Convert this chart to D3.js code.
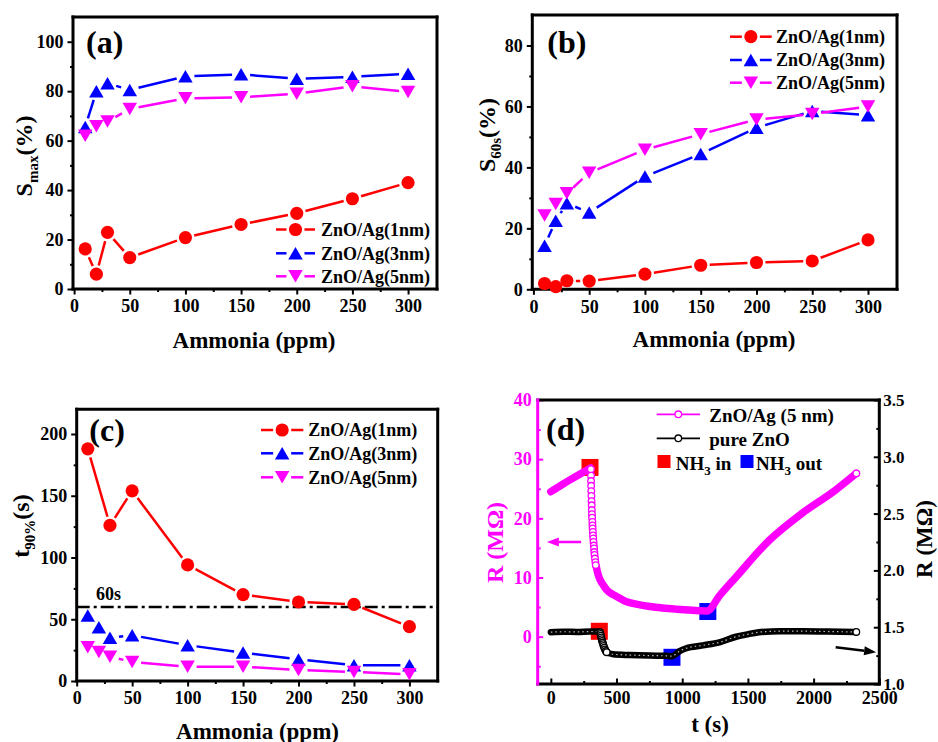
<!DOCTYPE html>
<html>
<head>
<meta charset="utf-8">
<script src="https://cdn.jsdelivr.net/npm/d3@7"></script>
<style>
  body { margin: 0; background: #fff; }
  svg text { font-family: "Liberation Serif", "Times New Roman", serif; font-weight: bold; }
</style>
</head>
<body>
<svg id="fig" width="938" height="742"></svg>
<script>
// ---- values ----
const ppm = [10, 20, 30, 50, 100, 150, 200, 250, 300];
const ppmT90_1nm = [10, 30, 50, 100, 150, 200, 250, 300]; // no 20 ppm point for 1 nm

const seriesNames = ['ZnO/Ag(1nm)', 'ZnO/Ag(3nm)', 'ZnO/Ag(5nm)'];

// (a) maximum response
const smax1nm = [16.2, 6.0, 22.9, 12.7, 20.8, 26.1, 30.6, 36.5, 43.0];
const smax3nm = [65.5, 80, 83.2, 80.5, 86, 86.8, 85, 85.8, 87];
const smax5nm = [62, 65.8, 67.7, 72.8, 77.1, 77.5, 79, 82, 79.7];

// (b) response after 60 s
const s60_1nm = [1.9, 0.9, 2.8, 2.7, 5.0, 7.9, 8.8, 9.3, 16.2];
const s60_3nm = [14.3, 22.5, 28.2, 25.2, 37, 44.4, 53, 58.5, 57.1];
const s60_5nm = [24.2, 28, 31.5, 38.2, 45.8, 50.9, 55.7, 57.5, 60];

// (c) response time
const t90_1nm = [188, 126, 154, 94, 70, 64, 62, 44];
const t90_3nm = [53, 43.5, 35, 37, 29, 23, 17.5, 12.7, 12.7];
const t90_5nm = [27.3, 23.5, 19.7, 15.4, 11.6, 11.6, 8.9, 7.3, 5.4];
const t90Limit = 60;

// (d) transient resistance, [t (s), R (MOhm)]
const agBeforeGas = [[0, 24.5], [100, 25.9], [200, 27.2], [303, 28.5]];
const agDrop = [[305, 28.3], [306, 27.2], [306, 26.3], [307, 25.5], [308, 24.6], [309, 23.8],
  [310, 22.9], [311, 22.2], [312, 21.4], [313, 20.7], [314, 20.1], [316, 19.4], [317, 18.8],
  [318, 18.3], [320, 17.7], [321, 17.1], [323, 16.6], [325, 16.0], [327, 15.4], [329, 14.9],
  [331, 14.3], [333, 13.8], [336, 13.2], [339, 12.6], [342, 12.1]];
const agAfter = [[345, 11.9], [360, 10.5], [375, 9.6], [400, 8.7], [425, 7.9], [475, 7.1],
  [500, 6.8], [576, 5.9], [650, 5.5], [753, 5.1], [850, 4.85], [955, 4.65], [1050, 4.5],
  [1132, 4.4], [1190, 4.35], [1283, 6.9], [1410, 10.1], [1663, 16.3], [1915, 20.9],
  [2168, 24.8], [2325, 27.6]];

const pureBeforeGas = [[0, 1.456], [100, 1.46], [200, 1.458], [300, 1.462], [372, 1.462]];
const pureDrop = [[375, 1.455], [378, 1.44], [381, 1.425], [384, 1.41], [387, 1.395],
  [390, 1.38], [394, 1.365], [398, 1.35], [402, 1.335], [407, 1.32], [412, 1.305],
  [418, 1.29], [425, 1.28]];
const pureAfter = [[430, 1.275], [475, 1.262], [600, 1.255], [750, 1.25], [880, 1.248],
  [922, 1.245], [980, 1.29], [1031, 1.315], [1157, 1.34], [1283, 1.367], [1410, 1.416],
  [1486, 1.435], [1600, 1.458], [1750, 1.465], [1915, 1.465], [2100, 1.462], [2325, 1.458]];

const gasInAg = [298, 28.6];     // left axis
const gasOutAg = [1195, 4.25];
const gasInPure = [369, 1.464];  // right axis
const gasOutPure = [922, 1.235];

// ---- styles ----
const RED = '#ff0000';
const BLUE = '#0000ff';
const MAG = '#ff00ff';
const SERIF = '"Liberation Serif", "Times New Roman", serif';
const SANS = '"Liberation Sans", Arial, sans-serif';

const svg = d3.select('#fig');

function markerPath(kind) {
  if (kind === 'circle') return d3.symbol(d3.symbolCircle, 136)();
  const s = 14.5, h = 12.5;
  if (kind === 'up') return `M0,${-h / 2}L${s / 2},${h / 2}L${-s / 2},${h / 2}Z`;
  return `M0,${h / 2}L${s / 2},${-h / 2}L${-s / 2},${-h / 2}Z`;
}

// line between symbols is cut short around each symbol (Origin "gap to symbol")
function gapLines(g, pts, color, gap) {
  const segs = [];
  d3.pairs(pts).forEach(([a, b]) => {
    const dx = b[0] - a[0], dy = b[1] - a[1];
    const len = Math.hypot(dx, dy);
    if (len <= 2 * gap) return;
    const ux = dx / len, uy = dy / len;
    segs.push([a[0] + ux * gap, a[1] + uy * gap, b[0] - ux * gap, b[1] - uy * gap]);
  });
  g.append('g').selectAll('line').data(segs).join('line')
    .attr('x1', (d) => d[0]).attr('y1', (d) => d[1])
    .attr('x2', (d) => d[2]).attr('y2', (d) => d[3])
    .attr('stroke', color).attr('stroke-width', 2.5);
}

function drawSeries(p, xs, ys, color, kind) {
  const pts = xs.map((v, i) => [p.x(v), p.y(ys[i])]);
  gapLines(p.g, pts, color, 9);
  p.g.append('g').selectAll('path').data(pts).join('path')
    .attr('transform', (d) => `translate(${d[0]},${d[1]})`)
    .attr('d', markerPath(kind))
    .attr('fill', color);
}

function legend(p, rows, lx0, lx1, tx) {
  rows.forEach((r) => {
    const mx = (lx0 + lx1) / 2;
    p.g.append('line').attr('x1', lx0).attr('x2', mx - 9).attr('y1', r.y).attr('y2', r.y)
      .attr('stroke', r.color).attr('stroke-width', 2.5);
    p.g.append('line').attr('x1', mx + 9).attr('x2', lx1).attr('y1', r.y).attr('y2', r.y)
      .attr('stroke', r.color).attr('stroke-width', 2.5);
    p.g.append('path').attr('transform', `translate(${mx},${r.y})`)
      .attr('d', markerPath(r.kind)).attr('fill', r.color);
    p.g.append('text').attr('x', tx).attr('y', r.y + 6.3)
      .attr('font-size', 18).text(r.name);
  });
}

function styleAxis(sel, size, family, color) {
  sel.attr('font-size', size).attr('font-family', family).attr('font-weight', 'bold')
    .attr('color', color || '#000');
  sel.select('.domain').remove();
  sel.selectAll('line').attr('stroke-width', 2);
}

function makePanel(c) {
  const p = {};
  p.g = svg.append('g');
  p.x = d3.scaleLinear().domain(c.xDomain).range([c.left, c.right]);
  p.y = d3.scaleLinear().domain(c.yDomain).range([c.bottom, c.top]);
  const dir = c.ticksIn ? -1 : 1;

  // minor ticks first, then major ticks with labels
  p.g.append('g').attr('transform', `translate(0,${c.bottom})`)
    .call(d3.axisBottom(p.x).tickValues(c.xMinor).tickSize(3 * dir).tickFormat(''))
    .call((s) => styleAxis(s, 18, SERIF));
  p.g.append('g').attr('transform', `translate(0,${c.bottom})`)
    .call(d3.axisBottom(p.x).tickValues(c.xMajor).tickSize(5.5 * dir)
      .tickPadding(c.ticksIn ? 7 : 5).tickFormat(d3.format('d')))
    .call((s) => styleAxis(s, 18, SERIF));

  p.g.append('g').attr('transform', `translate(${c.left},0)`)
    .call(d3.axisLeft(p.y).tickValues(c.yMinor).tickSize(3 * dir).tickFormat(''))
    .call((s) => styleAxis(s, 18, SERIF, c.leftColor));
  p.g.append('g').attr('transform', `translate(${c.left},0)`)
    .call(d3.axisLeft(p.y).tickValues(c.yMajor).tickSize(5.5 * dir)
      .tickPadding(c.ticksIn ? 6 : 4).tickFormat(d3.format('d')))
    .call((s) => styleAxis(s, 18, SERIF, c.leftColor));

  // frame
  const fr = p.g.append('g').attr('stroke-width', 3).attr('stroke-linecap', 'square');
  fr.append('line').attr('x1', c.left).attr('x2', c.right).attr('y1', c.top).attr('y2', c.top).attr('stroke', '#000');
  fr.append('line').attr('x1', c.right).attr('x2', c.right).attr('y1', c.top).attr('y2', c.bottom).attr('stroke', '#000');
  fr.append('line').attr('x1', c.left).attr('x2', c.right).attr('y1', c.bottom).attr('y2', c.bottom).attr('stroke', '#000');
  fr.append('line').attr('x1', c.left).attr('x2', c.left).attr('y1', c.top).attr('y2', c.bottom)
    .attr('stroke', c.leftColor || '#000');

  // panel letter
  p.g.append('text').attr('x', c.labelX).attr('y', c.labelY).attr('font-size', 32).text(c.label);

  // x title
  p.g.append('text').attr('x', c.xTitleX).attr('y', c.xTitleY).attr('text-anchor', 'middle')
    .attr('font-size', 23).text(c.xTitle);

  // y title with subscript, rotated
  const yt = p.g.append('text')
    .attr('transform', `translate(${c.yTitleX},${c.yTitleY}) rotate(-90)`)
    .attr('text-anchor', 'middle').attr('font-size', 24)
    .attr('fill', c.leftColor || '#000');
  yt.append('tspan').text(c.yTitle[0]);
  if (c.yTitle[1]) {
    yt.append('tspan').attr('font-size', 15).attr('dy', 6).text(c.yTitle[1]);
    yt.append('tspan').attr('dy', -6).text(c.yTitle[2]);
  }
  return p;
}

// ---------- (a) ----------
const pa = makePanel({
  left: 73, right: 437, top: 17, bottom: 289,
  xDomain: [-1, 326], yDomain: [0, 110],
  xMajor: d3.range(0, 301, 50), xMinor: d3.range(25, 300, 50),
  yMajor: d3.range(0, 101, 20), yMinor: d3.range(10, 110, 20),
  label: '(a)', labelX: 86, labelY: 52.5,
  xTitle: 'Ammonia (ppm)', xTitleX: 254, xTitleY: 348,
  yTitle: ['S', 'max', '(%)'], yTitleX: 31.5, yTitleY: 156,
});
drawSeries(pa, ppm, smax1nm, RED, 'circle');
drawSeries(pa, ppm, smax3nm, BLUE, 'up');
drawSeries(pa, ppm, smax5nm, MAG, 'down');
legend(pa, [
  { y: 229.5, color: RED, kind: 'circle', name: seriesNames[0] },
  { y: 253.3, color: BLUE, kind: 'up', name: seriesNames[1] },
  { y: 276.3, color: MAG, kind: 'down', name: seriesNames[2] },
], 276, 315, 321);

// ---------- (b) ----------
const pb = makePanel({
  left: 532.3, right: 897, top: 15, bottom: 289.3,
  xDomain: [-1, 326], yDomain: [0, 90],
  xMajor: d3.range(0, 301, 50), xMinor: d3.range(25, 300, 50),
  yMajor: d3.range(0, 81, 20), yMinor: d3.range(10, 90, 20),
  label: '(b)', labelX: 547.3, labelY: 52.5,
  xTitle: 'Ammonia (ppm)', xTitleX: 714, xTitleY: 347,
  yTitle: ['S', '60s', '(%)'], yTitleX: 495, yTitleY: 135,
});
drawSeries(pb, ppm, s60_1nm, RED, 'circle');
drawSeries(pb, ppm, s60_3nm, BLUE, 'up');
drawSeries(pb, ppm, s60_5nm, MAG, 'down');
legend(pb, [
  { y: 36.7, color: RED, kind: 'circle', name: seriesNames[0] },
  { y: 60, color: BLUE, kind: 'up', name: seriesNames[1] },
  { y: 82.7, color: MAG, kind: 'down', name: seriesNames[2] },
], 730, 771.7, 776);

// ---------- (c) ----------
const pc = makePanel({
  left: 76.7, right: 437.7, top: 409.3, bottom: 681,
  xDomain: [0, 325.5], yDomain: [0, 220],
  xMajor: d3.range(0, 301, 50), xMinor: d3.range(25, 300, 50),
  yMajor: d3.range(0, 201, 50), yMinor: d3.range(25, 220, 50),
  label: '(c)', labelX: 89.3, labelY: 441,
  xTitle: 'Ammonia (ppm)', xTitleX: 257.5, xTitleY: 738.5,
  yTitle: ['t', '90%', '(s)'], yTitleX: 29, yTitleY: 526,
});
pc.g.append('line')
  .attr('x1', pc.x.range()[0]).attr('x2', pc.x.range()[1])
  .attr('y1', pc.y(t90Limit)).attr('y2', pc.y(t90Limit))
  .attr('stroke', '#000').attr('stroke-width', 2.5).attr('stroke-dasharray', '13,4,3,4');
pc.g.append('text').attr('x', 96).attr('y', pc.y(t90Limit) - 7)
  .attr('font-family', SANS).attr('font-size', 18).text(`${t90Limit}s`);
drawSeries(pc, ppmT90_1nm, t90_1nm, RED, 'circle');
drawSeries(pc, ppm, t90_3nm, BLUE, 'up');
drawSeries(pc, ppm, t90_5nm, MAG, 'down');
legend(pc, [
  { y: 430, color: RED, kind: 'circle', name: seriesNames[0] },
  { y: 453.3, color: BLUE, kind: 'up', name: seriesNames[1] },
  { y: 477.3, color: MAG, kind: 'down', name: seriesNames[2] },
], 261, 303.3, 308.3);

// ---------- (d) ----------
const pd = makePanel({
  left: 537.7, right: 879.3, top: 400, bottom: 684,
  xDomain: [-100, 2500], yDomain: [-8, 40], ticksIn: true, leftColor: MAG,
  xMajor: d3.range(0, 2501, 500), xMinor: d3.range(250, 2500, 500),
  yMajor: d3.range(0, 41, 10), yMinor: d3.range(-5, 40, 10),
  label: '(d)', labelX: 546, labelY: 439.5,
  xTitle: 't (s)', xTitleX: 710, xTitleY: 732,
  yTitle: ['R (MΩ)'], yTitleX: 502.5, yTitleY: 542.5,
});
pd.yR = d3.scaleLinear().domain([1.0, 3.5]).range([684, 400]);

pd.g.append('g').attr('transform', 'translate(879.3,0)')
  .call(d3.axisRight(pd.yR).tickValues(d3.range(1.25, 3.5, 0.5)).tickSize(-3).tickFormat(''))
  .call((s) => styleAxis(s, 17, SANS));
pd.g.append('g').attr('transform', 'translate(879.3,0)')
  .call(d3.axisRight(pd.yR).tickValues(d3.range(1.0, 3.51, 0.5)).tickSize(-5.5).tickPadding(4)
    .tickFormat(d3.format('.1f')))
  .call((s) => styleAxis(s, 17, SANS));
pd.g.append('text').attr('transform', 'translate(932,539) rotate(-90)')
  .attr('text-anchor', 'middle').attr('font-size', 23).text('R (MΩ)');

// dense sampling draws as a thick band of overlapping open symbols
function band(pts, yScale, color, width) {
  pd.g.append('path').datum(pts)
    .attr('d', d3.line().x((d) => pd.x(d[0])).y((d) => yScale(d[1])).curve(d3.curveMonotoneX))
    .attr('fill', 'none').attr('stroke', color).attr('stroke-width', width)
    .attr('stroke-linecap', 'round').attr('stroke-linejoin', 'round');
}
function openDots(pts, yScale, color) {
  pd.g.append('g').selectAll('circle').data(pts).join('circle')
    .attr('cx', (d) => pd.x(d[0])).attr('cy', (d) => yScale(d[1])).attr('r', 3.3)
    .attr('fill', '#fff').attr('stroke', color).attr('stroke-width', 1.3);
}
function gasSquare(pt, yScale, color) {
  pd.g.append('rect').attr('x', pd.x(pt[0]) - 8.5).attr('y', yScale(pt[1]) - 8.5)
    .attr('width', 17).attr('height', 17).attr('fill', color);
}

gasSquare(gasInAg, pd.y, RED);
gasSquare(gasOutAg, pd.y, BLUE);
gasSquare(gasInPure, pd.yR, RED);
gasSquare(gasOutPure, pd.yR, BLUE);

band(agBeforeGas, pd.y, MAG, 7.5);
band(agAfter, pd.y, MAG, 7.5);
openDots(agDrop, pd.y, MAG);
openDots([agAfter[agAfter.length - 1]], pd.y, MAG);

band(pureBeforeGas, pd.yR, '#000', 6.5);
band(pureAfter, pd.yR, '#000', 6.5);
[pureBeforeGas, pureAfter].forEach((pts) => {
  pd.g.append('path').datum(pts)
    .attr('d', d3.line().x((d) => pd.x(d[0])).y((d) => pd.yR(d[1])).curve(d3.curveMonotoneX))
    .attr('fill', 'none').attr('stroke', '#bbb').attr('stroke-width', 1.2)
    .attr('stroke-dasharray', '1.5,3');
});
openDots(pureDrop, pd.yR, '#000');
openDots([pureAfter[pureAfter.length - 1]], pd.yR, '#000');

// axis pointer arrows
function arrow(x0, y0, x1, y1, color) {
  const a = Math.atan2(y1 - y0, x1 - x0);
  const L = 12, W = 4.5;
  const bx = x1 - L * Math.cos(a), by = y1 - L * Math.sin(a);
  pd.g.append('line').attr('x1', x0).attr('y1', y0).attr('x2', bx).attr('y2', by)
    .attr('stroke', color).attr('stroke-width', 2.5);
  pd.g.append('path')
    .attr('d', `M${x1},${y1}L${bx - W * Math.sin(a)},${by + W * Math.cos(a)}L${bx + W * Math.sin(a)},${by - W * Math.cos(a)}Z`)
    .attr('fill', color);
}
arrow(pd.x(230), pd.y(16), pd.x(-30), pd.y(16), MAG);
arrow(pd.x(2168), pd.yR(1.323), pd.x(2476), pd.yR(1.279), '#000');

// legend (d)
[[414.3, MAG, 'ZnO/Ag (5 nm)', 421.7], [438.3, '#000', 'pure ZnO', 446]].forEach(([y, col, name, base]) => {
  pd.g.append('line').attr('x1', 656.7).attr('x2', 700).attr('y1', y).attr('y2', y)
    .attr('stroke', col).attr('stroke-width', 1.8);
  pd.g.append('circle').attr('cx', 678.3).attr('cy', y).attr('r', 3.3)
    .attr('fill', '#fff').attr('stroke', col).attr('stroke-width', 1.3);
  pd.g.append('text').attr('x', 709.3).attr('y', base).attr('font-size', 19).text(name);
});
pd.g.append('rect').attr('x', 657.5).attr('y', 455).attr('width', 13).attr('height', 13).attr('fill', RED);
pd.g.append('rect').attr('x', 740.5).attr('y', 455).attr('width', 13).attr('height', 13).attr('fill', BLUE);
[[675.7, ' in'], [756, ' out']].forEach(([x, rest]) => {
  const t = pd.g.append('text').attr('x', x).attr('y', 470).attr('font-size', 19);
  t.append('tspan').text('NH');
  t.append('tspan').attr('font-size', 13).attr('dy', 5).text('3');
  t.append('tspan').attr('dy', -5).text(rest);
});
</script>
</body>
</html>
